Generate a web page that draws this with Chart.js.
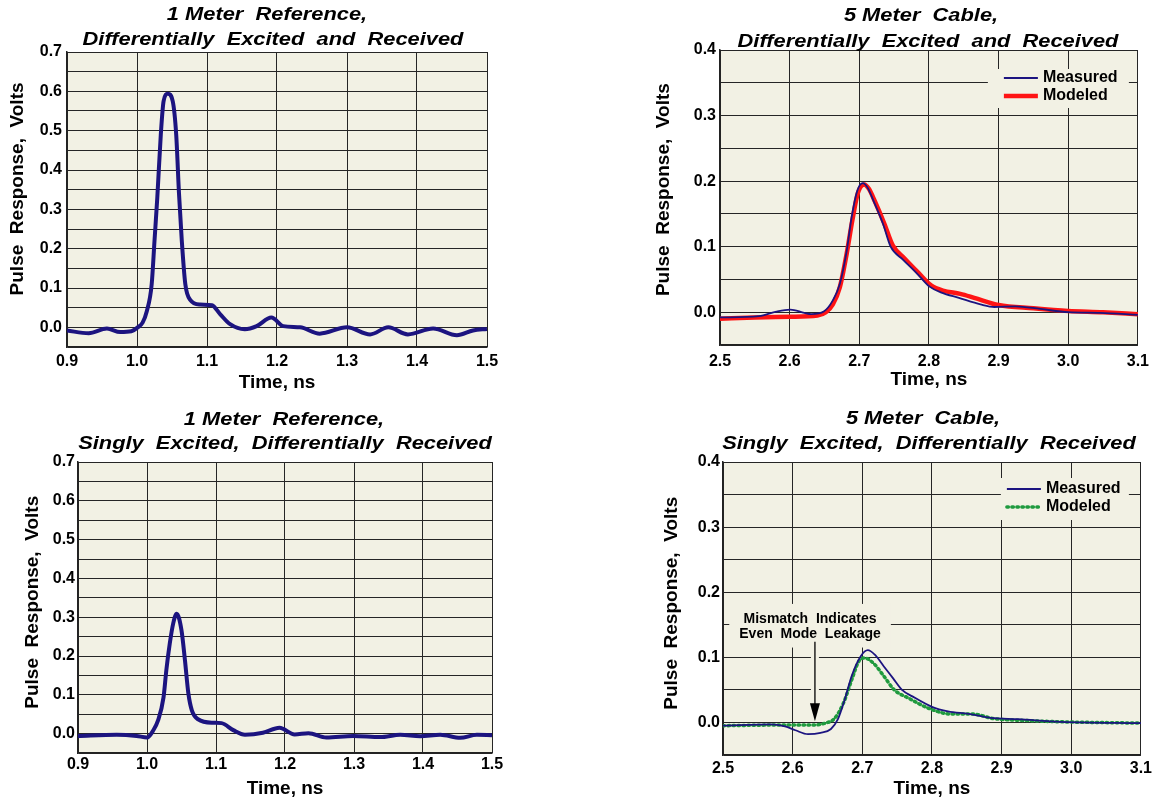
<!DOCTYPE html>
<html>
<head>
<meta charset="utf-8">
<title>Pulse response</title>
<script src="https://cdn.jsdelivr.net/npm/chart.js@4.4.1/dist/chart.umd.min.js"></script>
<style>
  html, body { margin: 0; padding: 0; background: #ffffff; }
  #wrap { position: relative; width: 1156px; height: 801px; overflow: hidden; }
  canvas { position: absolute; }
</style>
</head>
<body>
<div id="wrap">
  <canvas id="chart-ref-diff" width="578" height="400" style="left:0;top:0"></canvas>
  <canvas id="chart-cable-diff" width="578" height="400" style="left:578px;top:0"></canvas>
  <canvas id="chart-ref-single" width="578" height="401" style="left:0;top:400px"></canvas>
  <canvas id="chart-cable-single" width="578" height="401" style="left:578px;top:400px"></canvas>
</div>
<script>
// 1 m reference, differential
var refDiffTime = [0.900, 0.931, 0.957, 0.976, 0.992, 1.001, 1.008, 1.014, 1.021, 1.025, 1.029, 1.034, 1.038, 1.044, 1.051, 1.056, 1.060, 1.064, 1.069, 1.076, 1.090, 1.107, 1.119, 1.133, 1.154, 1.171, 1.192, 1.209, 1.233, 1.261, 1.300, 1.333, 1.359, 1.387, 1.423, 1.457, 1.480, 1.500];
var refDiffVolts = [-0.008, -0.015, -0.003, -0.012, -0.010, 0.000, 0.012, 0.041, 0.110, 0.220, 0.330, 0.490, 0.575, 0.594, 0.575, 0.490, 0.340, 0.220, 0.110, 0.070, 0.058, 0.056, 0.033, 0.008, -0.005, 0.003, 0.025, 0.003, 0.000, -0.016, 0.000, -0.018, 0.000, -0.018, -0.003, -0.020, -0.008, -0.004];

// 1 m reference, singly excited
var refSingleTime = [0.900, 0.956, 0.985, 1.000, 1.009, 1.016, 1.024, 1.028, 1.033, 1.038, 1.043, 1.050, 1.055, 1.060, 1.065, 1.074, 1.096, 1.108, 1.125, 1.142, 1.168, 1.192, 1.214, 1.234, 1.260, 1.299, 1.338, 1.367, 1.396, 1.425, 1.454, 1.478, 1.500];
var refSingleVolts = [-0.006, -0.003, -0.006, -0.010, 0.008, 0.034, 0.094, 0.163, 0.232, 0.284, 0.309, 0.266, 0.189, 0.103, 0.060, 0.037, 0.028, 0.027, 0.009, -0.003, 0.002, 0.015, -0.002, 0.001, -0.010, -0.006, -0.009, -0.003, -0.007, -0.003, -0.011, -0.003, -0.004];

// 5 m cable, differential
var cableDiffMeasTime = [2.500, 2.556, 2.581, 2.601, 2.621, 2.631, 2.649, 2.662, 2.672, 2.682, 2.689, 2.697, 2.705, 2.712, 2.720, 2.734, 2.745, 2.763, 2.783, 2.801, 2.818, 2.843, 2.874, 2.894, 2.924, 2.960, 3.000, 3.046, 3.100];
var cableDiffMeasVolts = [-0.008, -0.006, 0.001, 0.004, -0.001, -0.003, 0.001, 0.018, 0.043, 0.094, 0.145, 0.185, 0.197, 0.190, 0.171, 0.135, 0.100, 0.080, 0.059, 0.039, 0.030, 0.022, 0.012, 0.008, 0.009, 0.005, 0.000, -0.001, -0.004];
var cableDiffModelTime = [2.500, 2.550, 2.600, 2.640, 2.652, 2.662, 2.672, 2.682, 2.690, 2.698, 2.707, 2.714, 2.722, 2.736, 2.748, 2.765, 2.785, 2.803, 2.820, 2.845, 2.865, 2.900, 2.950, 3.000, 3.050, 3.100];
var cableDiffModelVolts = [-0.010, -0.008, -0.007, -0.005, 0.000, 0.012, 0.038, 0.090, 0.140, 0.182, 0.195, 0.188, 0.170, 0.135, 0.102, 0.082, 0.060, 0.041, 0.033, 0.028, 0.022, 0.011, 0.006, 0.002, 0.000, -0.003];

// 5 m cable, singly excited
var cableSingleMeasTime = [2.500, 2.569, 2.589, 2.604, 2.622, 2.640, 2.655, 2.665, 2.675, 2.685, 2.698, 2.708, 2.718, 2.731, 2.744, 2.757, 2.772, 2.800, 2.823, 2.853, 2.884, 2.924, 2.985, 3.100];
var cableSingleMeasVolts = [-0.005, -0.003, -0.006, -0.012, -0.018, -0.016, -0.010, 0.005, 0.036, 0.072, 0.102, 0.111, 0.104, 0.086, 0.068, 0.050, 0.040, 0.024, 0.017, 0.013, 0.007, 0.005, 0.001, -0.001];
var cableSingleModelTime = [2.500, 2.579, 2.629, 2.647, 2.660, 2.673, 2.685, 2.695, 2.703, 2.716, 2.731, 2.746, 2.767, 2.797, 2.827, 2.858, 2.888, 2.934, 2.985, 3.100];
var cableSingleModelVolts = [-0.005, -0.004, -0.004, -0.001, 0.006, 0.030, 0.066, 0.094, 0.099, 0.091, 0.071, 0.050, 0.037, 0.021, 0.013, 0.013, 0.006, 0.003, 0.001, -0.001];

// axes
var refTimeTicks = [0.9, 1.0, 1.1, 1.2, 1.3, 1.4, 1.5];
var cableTimeTicks = [2.5, 2.6, 2.7, 2.8, 2.9, 3.0, 3.1];
var refVoltTicks = [-0.05, 0.0, 0.05, 0.1, 0.15, 0.2, 0.25, 0.3, 0.35, 0.4, 0.45, 0.5, 0.55, 0.6, 0.65, 0.7];
var cableVoltTicks = [-0.05, 0.0, 0.05, 0.1, 0.15, 0.2, 0.25, 0.3, 0.35, 0.4];

var FONT = '"Liberation Sans", Arial, Helvetica, sans-serif';
var PLOT_BG = "#f2f1e4";
var NAVY = "#1c1480";

Chart.defaults.font.family = FONT;
Chart.defaults.font.size = 16;
Chart.defaults.font.weight = "bold";
Chart.defaults.color = "#000000";

function points(xs, ys) {
  return xs.map(function (x, i) {
    return { x: x, y: ys[i] };
  });
}

var plotBackground = {
  id: "plotBackground",
  beforeDraw: function (chart) {
    var a = chart.chartArea;
    var ctx = chart.ctx;
    ctx.save();
    ctx.fillStyle = PLOT_BG;
    ctx.fillRect(a.left, a.top, a.right - a.left, a.bottom - a.top);
    ctx.restore();
  }
};

var panelTitle = {
  id: "panelTitle",
  afterDraw: function (chart, args, o) {
    if (!o.lines) return;
    var ctx = chart.ctx;
    ctx.save();
    ctx.fillStyle = "#000";
    ctx.font = "italic bold 19px " + FONT;
    ctx.textAlign = "center";
    ctx.textBaseline = "alphabetic";
    o.lines.forEach(function (text, i) {
      ctx.save();
      ctx.translate(o.x[i], o.y[i]);
      ctx.scale(1.15, 1);
      ctx.fillText(text, 0, 0);
      ctx.restore();
    });
    ctx.restore();
  }
};

var panelLegend = {
  id: "panelLegend",
  afterDatasetsDraw: function (chart, args, o) {
    if (!o.box) return;
    var a = chart.chartArea;
    var ctx = chart.ctx;
    ctx.save();
    ctx.fillStyle = PLOT_BG;
    ctx.fillRect(a.right - o.box[0], a.top + o.box[1], o.box[0] - o.box[2], o.box[3] - o.box[1]);
    chart.data.datasets.forEach(function (ds, i) {
      var y = a.top + o.rows[i];
      ctx.beginPath();
      ctx.strokeStyle = ds.borderColor;
      ctx.lineWidth = ds.borderWidth;
      ctx.lineCap = ds.borderCapStyle || "butt";
      ctx.setLineDash(ds.borderDash || []);
      ctx.moveTo(a.right - o.sample[0], y);
      ctx.lineTo(a.right - o.sample[1], y);
      ctx.stroke();
      ctx.setLineDash([]);
      ctx.fillStyle = "#000";
      ctx.font = "bold 16px " + FONT;
      ctx.textAlign = "left";
      ctx.textBaseline = "middle";
      ctx.fillText(ds.label, a.right - o.text, y);
    });
    ctx.restore();
  }
};

var panelNote = {
  id: "panelNote",
  afterDatasetsDraw: function (chart, args, o) {
    if (!o.lines) return;
    var xs = chart.scales.x;
    var ys = chart.scales.y;
    var ctx = chart.ctx;
    var cx = xs.getPixelForValue(o.textAt);
    var rows = o.rows.map(function (v) { return ys.getPixelForValue(v); });
    ctx.save();
    ctx.font = "bold 14px " + FONT;
    var w = Math.max.apply(null, o.lines.map(function (t) { return ctx.measureText(t).width; }));
    ctx.fillStyle = PLOT_BG;
    ctx.fillRect(cx - w / 2 - 10, rows[0] - 15, w + 20, rows[1] - rows[0] + 28);
    ctx.fillStyle = "#000";
    ctx.textAlign = "center";
    ctx.textBaseline = "middle";
    o.lines.forEach(function (t, i) { ctx.fillText(t, cx, rows[i]); });

    var ax = xs.getPixelForValue(o.arrow[0]);
    var y0 = ys.getPixelForValue(o.arrow[1]);
    var y1 = ys.getPixelForValue(o.arrow[2]);
    ctx.strokeStyle = PLOT_BG;
    ctx.lineWidth = 8;
    ctx.beginPath();
    ctx.moveTo(ax, y0);
    ctx.lineTo(ax, y1 - 18);
    ctx.stroke();
    ctx.strokeStyle = "#000";
    ctx.lineWidth = 1.3;
    ctx.beginPath();
    ctx.moveTo(ax, y0);
    ctx.lineTo(ax, y1 - 16);
    ctx.stroke();
    ctx.fillStyle = "#000";
    ctx.beginPath();
    ctx.moveTo(ax - 5, y1 - 18);
    ctx.lineTo(ax + 5, y1 - 18);
    ctx.lineTo(ax, y1);
    ctx.closePath();
    ctx.fill();
    ctx.restore();
  }
};

Chart.register(plotBackground, panelTitle, panelLegend, panelNote);

function voltLabel(v) {
  var r = Math.round(v * 100);
  return r % 10 === 0 ? v.toFixed(1) : "";
}

function makePanel(id, p) {
  var canvas = document.getElementById(id);
  var W = canvas.width;
  var H = canvas.height;
  var a = p.area;
  return new Chart(canvas, {
    type: "line",
    data: { datasets: p.datasets },
    options: {
      responsive: false,
      animation: false,
      layout: { padding: { left: 0, top: a[1], right: W - a[2], bottom: 0 } },
      elements: {
        point: { radius: 0 },
        line: { cubicInterpolationMode: "monotone" }
      },
      plugins: {
        legend: { display: false },
        tooltip: { enabled: false },
        panelTitle: p.title,
        panelLegend: p.legend || {},
        panelNote: p.note || {}
      },
      scales: {
        x: {
          type: "linear",
          min: p.xTicks[0],
          max: p.xTicks[p.xTicks.length - 1],
          afterBuildTicks: function (s) {
            s.ticks = p.xTicks.map(function (v) { return { value: v }; });
          },
          afterFit: function (s) { s.height = H - a[3]; },
          grid: { color: "#262626", lineWidth: 1, drawTicks: false },
          border: { color: "#222", width: 1.5 },
          ticks: {
            padding: p.xPad,
            maxRotation: 0,
            autoSkip: false,
            callback: function (v) { return v.toFixed(1); }
          },
          title: {
            display: true,
            text: "Time, ns",
            font: { size: 19, weight: "bold" },
            padding: { top: 0, bottom: p.xTitlePad }
          }
        },
        y: {
          type: "linear",
          min: p.yTicks[0],
          max: p.yTicks[p.yTicks.length - 1],
          afterBuildTicks: function (s) {
            s.ticks = p.yTicks.map(function (v) { return { value: v }; });
          },
          afterFit: function (s) { s.width = a[0]; },
          grid: { color: "#262626", lineWidth: 1, drawTicks: false },
          border: { color: "#222", width: 1.5 },
          ticks: { padding: p.yPad, autoSkip: false, callback: voltLabel },
          title: {
            display: true,
            // leading spaces lift the label a little above the plot centre, as in the original
            text: p.yTitle,
            font: { size: 19, weight: "bold" },
            padding: { top: p.yTitlePad, bottom: 0 }
          }
        }
      }
    }
  });
}

makePanel("chart-ref-diff", {
  area: [67, 52, 487, 347],
  xTicks: refTimeTicks,
  yTicks: refVoltTicks,
  xPad: 5, yPad: 5, xTitlePad: 6, yTitlePad: 6,
  yTitle: "    Pulse  Response,  Volts",
  title: {
    lines: ["1 Meter  Reference,", "Differentially  Excited  and  Received"],
    x: [267, 273], y: [20, 45]
  },
  datasets: [{
    label: "Measured",
    data: points(refDiffTime, refDiffVolts),
    borderColor: NAVY,
    borderWidth: 4
  }]
});

makePanel("chart-cable-diff", {
  area: [142, 50, 564, 345],
  xTicks: cableTimeTicks,
  yTicks: cableVoltTicks,
  xPad: 7, yPad: 4, xTitlePad: 9, yTitlePad: 74,
  yTitle: "   Pulse  Response,  Volts",
  title: {
    lines: ["5 Meter  Cable,", "Differentially  Excited  and  Received"],
    x: [343, 350], y: [21, 47]
  },
  legend: { box: [150, 19, 9, 58], rows: [28, 46], sample: [134, 100], text: 95 },
  datasets: [{
    label: "Measured",
    data: points(cableDiffMeasTime, cableDiffMeasVolts),
    borderColor: NAVY,
    borderWidth: 1.8
  }, {
    label: "Modeled",
    data: points(cableDiffModelTime, cableDiffModelVolts),
    borderColor: "#ff1414",
    borderWidth: 4.5
  }]
});

makePanel("chart-ref-single", {
  area: [78, 62, 492, 353],
  xTicks: refTimeTicks,
  yTicks: refVoltTicks,
  xPad: 2, yPad: 3, xTitlePad: 1, yTitlePad: 21,
  yTitle: "  Pulse  Response,  Volts",
  title: {
    lines: ["1 Meter  Reference,", "Singly  Excited,  Differentially  Received"],
    x: [284, 285], y: [25, 49]
  },
  datasets: [{
    label: "Measured",
    data: points(refSingleTime, refSingleVolts),
    borderColor: NAVY,
    borderWidth: 4
  }]
});

makePanel("chart-cable-single", {
  area: [145, 62, 565, 355],
  xTicks: cableTimeTicks,
  yTicks: cableVoltTicks,
  xPad: 4, yPad: 3, xTitlePad: 1, yTitlePad: 82,
  yTitle: "  Pulse  Response,  Volts",
  title: {
    lines: ["5 Meter  Cable,", "Singly  Excited,  Differentially  Received"],
    x: [345, 351], y: [24, 49]
  },
  legend: { box: [140, 16, 12, 58], rows: [27, 45], sample: [134, 100], text: 95 },
  note: {
    lines: ["Mismatch  Indicates", "Even  Mode  Leakage"],
    textAt: 2.625,
    rows: [0.159, 0.135],
    arrow: [2.632, 0.124, 0.002]
  },
  datasets: [{
    label: "Measured",
    data: points(cableSingleMeasTime, cableSingleMeasVolts),
    borderColor: NAVY,
    borderWidth: 1.8
  }, {
    label: "Modeled",
    data: points(cableSingleModelTime, cableSingleModelVolts),
    borderColor: "#1f9a3e",
    borderWidth: 3.5,
    borderDash: [1.5, 3.5],
    borderCapStyle: "round"
  }]
});
</script>
</body>
</html>
